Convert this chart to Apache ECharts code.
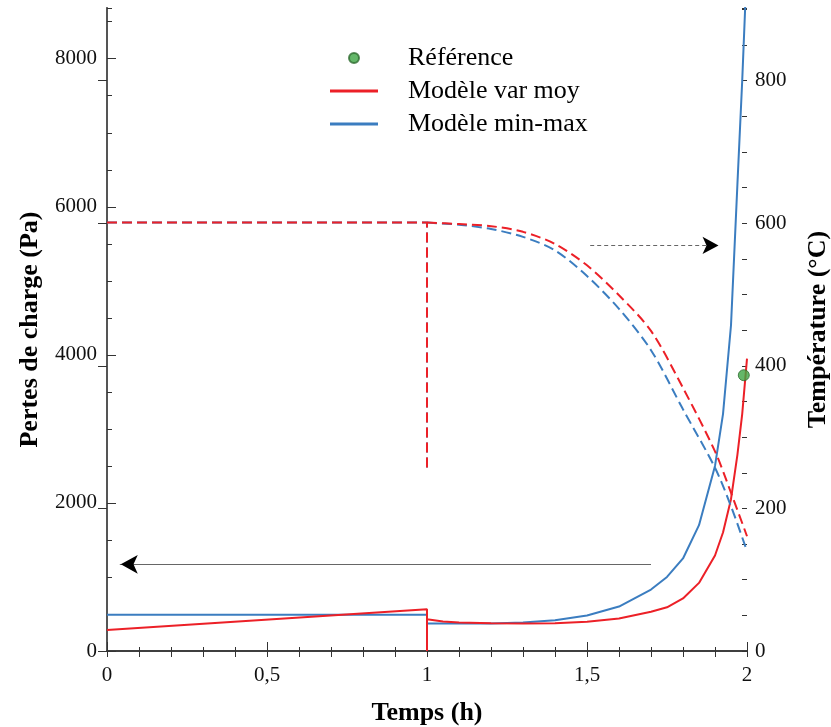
<!DOCTYPE html>
<html>
<head>
<meta charset="utf-8">
<script src="https://cdn.jsdelivr.net/npm/echarts@6/dist/echarts.min.js"></script>
<style>
html,body{margin:0;padding:0;background:#fff;}
#chart{width:831px;height:727px;}
</style>
</head>
<body>
<div id="chart"></div>
<script>
// ---- Data ----
const seriesNames = ['Référence', 'Modèle var moy', 'Modèle min-max'];

// Reference point (pressure drop, Pa)
const tRef = [1.99];
const pRef = [3725];

// Pressure drop (Pa) vs time (h) - solid lines, left axis
const tPressure = [0, 1, 1, 1, 1, 1.05, 1.1, 1.2, 1.3, 1.4, 1.5, 1.6, 1.7, 1.75, 1.8, 1.85, 1.9, 1.925, 1.95, 1.97, 1.985, 2.0];
const pVarMoy   = [284, 563, 0, null, 430, 400, 385, 375, 372, 375, 395, 440, 530, 590, 710, 920, 1290, 1600, 2050, 2650, 3200, 3950];
const pMinMax   = [490, 490, 0, null, 375, 372, 370, 372, 385, 415, 480, 600, 830, 1000, 1250, 1700, 2500, 3200, 4400, 6300, 7700, 9300];

// Temperature (°C) vs time (h) - dashed lines, right axis
// phase 1 (0 -> 1 h, ending with the drop at t = 1)
const tTemp1   = [0, 1, 1];
const tVarMoy1 = [601, 601, 256];
const tMinMax1 = [601, 601, 256];
// phase 2 (1 -> 2 h)
const tTemp2   = [1, 1.1, 1.2, 1.3, 1.4, 1.5, 1.6, 1.7, 1.8, 1.9, 1.95, 2.0];
const tVarMoy2 = [601, 599, 596, 588, 571, 541, 499, 449, 369, 280, 222, 161];
const tMinMax2 = [601, 598, 592, 581, 562, 526, 480, 422, 339, 257, 203, 140];

// Axis tick definitions
const xTicks = [0, 0.5, 1, 1.5, 2];
const leftTicks = [0, 2000, 4000, 6000, 8000];
const rightTicks = [0, 200, 400, 600, 800];

// Annotation arrows (data coordinates)
const arrowPressure = {from: [1.70, 1171], to: [0.04, 1171], head: [0.043, 1171]};
const arrowTemp = {from: [1.51, 569], to: [1.90, 569], head: [1.911, 569]};

// ---- Helpers ----
function zip(xs, ys) {
  return xs.map((x, i) => [x, ys[i] === null ? '-' : ys[i]]);
}

const RED = '#ec2027';
const BLUE = '#3b7dc0';
const FONT = '"Liberation Serif", "Times New Roman", serif';
const AXC = '#333';
const DASH = [10, 5];
const LINE_ICON = 'path://M0,0H48V3H0Z';

const chart = echarts.init(document.getElementById('chart'), null, {renderer: 'canvas'});

const option = {
  animation: false,
  backgroundColor: '#fff',
  grid: {left: 107, right: 84, top: 8, bottom: 76, outerBoundsMode: 'none', containLabel: false},
  legend: {
    orient: 'vertical',
    left: 325,
    top: 39,
    itemWidth: 48,
    itemHeight: 10,
    itemGap: 5,
    data: [
      {name: seriesNames[0], icon: 'circle'},
      {name: seriesNames[1], icon: LINE_ICON, itemStyle: {color: RED}},
      {name: seriesNames[2], icon: LINE_ICON, itemStyle: {color: BLUE}}
    ],
    textStyle: {fontFamily: FONT, fontSize: 26, color: '#000', lineHeight: 28, padding: [0, 0, 0, 25]}
  },
  xAxis: [
    {
      type: 'value', position: 'bottom', min: xTicks[0], max: xTicks[xTicks.length - 1], interval: 0.5,
      name: 'Temps (h)', nameLocation: 'middle', nameGap: 49,
      nameTextStyle: {fontFamily: FONT, fontSize: 26, fontWeight: 'bold', color: '#000'},
      axisLine: {show: true, lineStyle: {color: AXC, width: 1.5}},
      axisTick: {show: true, inside: true, length: 9, lineStyle: {color: AXC}},
      minorTick: {show: true, splitNumber: 5, length: 4, lineStyle: {color: AXC}},
      axisLabel: {fontFamily: FONT, fontSize: 21, color: '#111', margin: 14,
        formatter: v => String(v).replace('.', ',')},
      splitLine: {show: false}
    },
    {
      type: 'value', position: 'top', min: 0, max: 2, interval: 0.1,
      axisLine: {show: true, lineStyle: {color: AXC, width: 1.5}},
      axisTick: {show: true, inside: true, length: 6, lineStyle: {color: AXC}},
      axisLabel: {show: false}, splitLine: {show: false}
    }
  ],
  yAxis: [
    {
      type: 'value', position: 'left', offset: 0, min: 0, max: 8685, interval: 2000,
      name: 'Pertes de charge (Pa)', nameLocation: 'middle', nameGap: 64, nameRotate: 90,
      nameTextStyle: {fontFamily: FONT, fontSize: 26, fontWeight: 'bold', color: '#000'},
      axisLine: {show: true, lineStyle: {color: AXC, width: 1.5}},
      axisTick: {show: true, inside: true, length: 9, lineStyle: {color: AXC}},
      axisLabel: {fontFamily: FONT, fontSize: 21, color: '#111', margin: 10, showMaxLabel: false,
        formatter: v => leftTicks.includes(v) ? String(v) : ''},
      splitLine: {show: false}
    },
    {
      type: 'value', position: 'right', offset: 0, min: 0, max: 902, interval: 200,
      name: 'Température (°C)', nameLocation: 'middle', nameGap: 58, nameRotate: 90,
      nameTextStyle: {fontFamily: FONT, fontSize: 26, fontWeight: 'bold', color: '#000'},
      axisLine: {show: true, lineStyle: {color: '#555', width: 2}},
      axisTick: {show: true, inside: true, length: 9, lineStyle: {color: AXC}},
      axisLabel: {fontFamily: FONT, fontSize: 21, color: '#111', margin: 8, showMaxLabel: false,
        formatter: v => rightTicks.includes(v) ? String(v) : ''},
      splitLine: {show: false}
    },
    {
      type: 'value', position: 'left', offset: 0, min: 0, max: 8685, interval: 500,
      axisLine: {show: false},
      axisTick: {show: true, inside: true, length: 5, lineStyle: {color: AXC}},
      axisLabel: {show: false}, splitLine: {show: false}
    },
    {
      type: 'value', position: 'right', offset: 0, min: 0, max: 902, interval: 50,
      axisLine: {show: false},
      axisTick: {show: true, inside: true, length: 5, lineStyle: {color: AXC}},
      axisLabel: {show: false}, splitLine: {show: false}
    }
  ],
  series: [
    {
      name: seriesNames[2], type: 'line', xAxisIndex: 0, yAxisIndex: 0,
      data: zip(tPressure, pMinMax), symbol: 'none', connectNulls: false,
      lineStyle: {color: BLUE, width: 2}, itemStyle: {color: BLUE},
      markLine: {
        silent: true, symbol: ['none', 'none'], label: {show: false},
        lineStyle: {color: '#666', width: 1.2, type: 'solid'},
        data: [[{coord: arrowPressure.from}, {coord: arrowPressure.to}]]
      },
      markPoint: {
        silent: true, label: {show: false},
        data: [{coord: arrowPressure.head, symbol: 'arrow', symbolRotate: 90, symbolSize: [14, 17], itemStyle: {color: '#000'}}]
      }
    },
    {
      name: seriesNames[1], type: 'line', xAxisIndex: 0, yAxisIndex: 0,
      data: zip(tPressure, pVarMoy), symbol: 'none', connectNulls: false,
      lineStyle: {color: RED, width: 2}, itemStyle: {color: RED}
    },
    {
      name: seriesNames[2], type: 'line', xAxisIndex: 0, yAxisIndex: 1,
      data: zip(tTemp1, tMinMax1), symbol: 'none',
      lineStyle: {color: BLUE, width: 2, type: DASH}, itemStyle: {color: BLUE}
    },
    {
      name: seriesNames[2], type: 'line', xAxisIndex: 0, yAxisIndex: 1,
      data: zip(tTemp2, tMinMax2), symbol: 'none', smooth: 0.3,
      lineStyle: {color: BLUE, width: 2, type: DASH}, itemStyle: {color: BLUE},
      markLine: {
        silent: true, symbol: ['none', 'none'], label: {show: false},
        lineStyle: {color: '#666', width: 1, type: [4, 3]},
        data: [[{coord: arrowTemp.from}, {coord: arrowTemp.to}]]
      },
      markPoint: {
        silent: true, label: {show: false},
        data: [{coord: arrowTemp.head, symbol: 'arrow', symbolRotate: -90, symbolSize: [13, 16], itemStyle: {color: '#000'}}]
      }
    },
    {
      name: seriesNames[1], type: 'line', xAxisIndex: 0, yAxisIndex: 1,
      data: zip(tTemp1, tVarMoy1), symbol: 'none',
      lineStyle: {color: RED, width: 2, type: DASH}, itemStyle: {color: RED}
    },
    {
      name: seriesNames[1], type: 'line', xAxisIndex: 0, yAxisIndex: 1,
      data: zip(tTemp2, tVarMoy2), symbol: 'none', smooth: 0.3,
      lineStyle: {color: RED, width: 2, type: DASH}, itemStyle: {color: RED}
    },
    {
      name: seriesNames[0], type: 'scatter', xAxisIndex: 0, yAxisIndex: 0,
      data: zip(tRef, pRef), symbol: 'circle', symbolSize: 11,
      itemStyle: {color: '#3da543', borderColor: '#2e6b30', borderWidth: 1}, z: 5
    }
  ]
};
chart.setOption(option);
</script>
</body>
</html>
